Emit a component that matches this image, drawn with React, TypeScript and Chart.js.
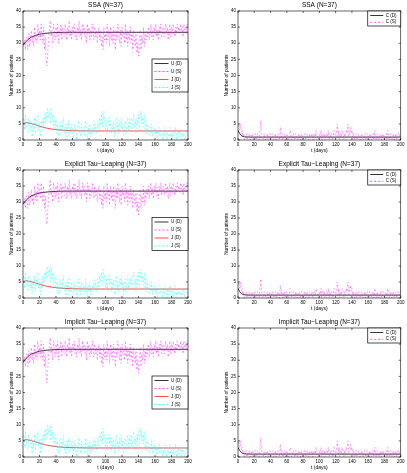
import React, { useEffect, useRef } from "react";
import { Chart, registerables } from "chart.js";
Chart.register(...registerables);

const FONT = '"Liberation Sans", Arial, Helvetica, sans-serif';

const xTicks = [0, 20, 40, 60, 80, 100, 120, 140, 160, 180, 200];
const yTicks = [0, 5, 10, 15, 20, 25, 30, 35, 40];

const titles = ["SSA (N=37)", "Explicit Tau\u2212Leaping (N=37)", "Implicit Tau\u2212Leaping (N=37)"];
const ujLegend = ["U (D)", "U (S)", "J (D)", "J (S)"];
const cLegend = ["C (D)", "C (S)"];

// deterministic solutions
const detDays = [0, 2, 4, 6, 8, 10, 15, 20, 25, 30, 35, 40, 45, 50, 60, 80, 100, 150, 200];
const uDet = [29.3, 30.0, 30.6, 31.1, 31.5, 31.9, 32.4, 32.8, 33.0, 33.15, 33.25, 33.32, 33.36, 33.4, 33.4, 33.4, 33.4, 33.4, 33.4];
const jDet = [5.0, 5.3, 5.4, 5.3, 5.2, 5.1, 4.7, 4.3, 3.9, 3.6, 3.4, 3.2, 3.1, 3.0, 2.9, 2.8, 2.8, 2.8, 2.8];
const cDet = [3.0, 2.0, 1.4, 1.1, 1.0, 0.95, 0.9, 0.9, 0.9, 0.9, 0.9, 0.9, 0.9, 0.9, 0.9, 0.9, 0.9, 0.9, 0.9];

// stochastic trajectories, one value per day (t = 0..200)
const stochDays = Array.from({ length: 201 }, (_, i) => i);
const uStoch = [
  30, 29, 31, 28, 32, 30, 28, 33, 29, 31,
  34, 30, 32, 29, 35, 31, 33, 30, 36, 32,
  34, 31, 36, 33, 30, 35, 28, 32, 25, 23,
  27, 31, 35, 37, 32, 34, 30, 36, 33, 31,
  35, 32, 36, 30, 34, 33, 36, 31, 35, 33,
  32, 36, 34, 31, 35, 33, 37, 32, 34, 31,
  35, 33, 36, 32, 34, 31, 35, 33, 37, 32,
  34, 31, 36, 33, 35, 32, 34, 30, 36, 33,
  35, 31, 34, 32, 36, 33, 31, 35, 32, 34,
  30, 33, 35, 31, 34, 29, 32, 28, 35, 31,
  33, 30, 36, 32, 34, 29, 35, 31, 33, 30,
  35, 32, 28, 34, 31, 36, 33, 30, 34, 29,
  35, 32, 33, 30, 36, 31, 34, 29, 33, 31,
  35, 30, 33, 28, 34, 31, 29, 33, 27, 30,
  26, 31, 34, 28, 32, 30, 35, 29, 33, 31,
  34, 32, 35, 31, 33, 36, 32, 34, 31, 35,
  33, 36, 32, 34, 31, 35, 33, 36, 32, 34,
  35, 32, 34, 36, 33, 35, 31, 34, 36, 32,
  35, 33, 36, 34, 32, 35, 33, 36, 34, 35,
  33, 36, 34, 35, 32, 36, 34, 35, 33, 36,
  35,
];
const jStoch = [
  5, 7, 3, 8, 4, 6, 2, 7, 5, 3,
  6, 1, 5, 3, 7, 2, 6, 4, 8, 3,
  5, 1, 6, 3, 7, 4, 8, 5, 9, 6,
  10, 7, 9, 5, 10, 6, 8, 4, 7, 3,
  6, 2, 5, 1, 4, 6, 2, 5, 3, 7,
  2, 4, 0, 5, 3, 6, 1, 4, 2, 5,
  3, 1, 5, 2, 4, 0, 3, 6, 2, 4,
  1, 5, 3, 2, 4, 1, 6, 3, 0, 4,
  2, 5, 1, 3, 4, 2, 6, 3, 5, 2,
  4, 6, 3, 7, 5, 8, 4, 9, 6, 7,
  3, 6, 2, 5, 7, 4, 6, 2, 5, 3,
  6, 1, 4, 7, 3, 5, 2, 6, 4, 7,
  3, 5, 1, 4, 6, 2, 5, 7, 3, 6,
  4, 7, 3, 5, 8, 4, 6, 2, 7, 5,
  8, 3, 6, 9, 5, 7, 4, 8, 3, 6,
  2, 5, 3, 1, 4, 2, 5, 1, 3, 2,
  4, 1, 3, 0, 2, 4, 1, 3, 2, 0,
  3, 1, 4, 2, 0, 3, 1, 2, 4, 1,
  2, 0, 3, 1, 2, 4, 0, 2, 1, 3,
  1, 2, 0, 3, 1, 2, 0, 1, 3, 2,
  1,
];
const cStoch = [
  4, 5, 3, 5, 2, 3, 1, 2, 0, 1,
  2, 0, 1, 1, 2, 0, 1, 2, 1, 0,
  1, 2, 0, 1, 2, 1, 0, 3, 6, 2,
  1, 0, 2, 1, 0, 1, 2, 0, 1, 2,
  0, 1, 2, 1, 0, 1, 2, 0, 1, 2,
  1, 0, 4, 1, 2, 0, 1, 2, 0, 1,
  2, 1, 0, 1, 3, 2, 0, 1, 2, 1,
  0, 2, 1, 0, 1, 2, 1, 0, 2, 1,
  0, 1, 2, 0, 1, 2, 1, 0, 2, 1,
  1, 2, 0, 1, 2, 1, 3, 2, 1, 0,
  2, 1, 3, 0, 2, 1, 2, 0, 1, 2,
  1, 3, 0, 2, 1, 2, 0, 1, 3, 2,
  1, 2, 5, 1, 3, 0, 2, 1, 3, 2,
  0, 2, 1, 3, 2, 5, 1, 2, 4, 2,
  3, 1, 2, 0, 1, 2, 0, 1, 2, 1,
  0, 1, 2, 1, 0, 1, 2, 0, 1, 2,
  1, 0, 2, 1, 0, 1, 2, 0, 3, 1,
  0, 2, 1, 0, 1, 2, 0, 1, 2, 1,
  0, 1, 2, 0, 3, 1, 0, 2, 1, 0,
  1, 2, 0, 1, 2, 0, 1, 2, 1, 2,
  2,
];

const BLACK = "#000000";
const MAGENTA = "#ff00ff";
const RED = "#ff0000";
const CYAN = "#00ffff";

const cols = [
  { left: 0, width: 200, chartLeft: 23, chartRight: 188 },
  { left: 205, width: 202, chartLeft: 238, chartRight: 402 },
];
const rows = [
  { top: 0, height: 156, chartTop: 11, chartBottom: 140 },
  { top: 158, height: 156, chartTop: 170, chartBottom: 298 },
  { top: 316, height: 157, chartTop: 328, chartBottom: 457 },
];

type Entry = { label: string; color: string; dash: boolean; width: number };

function pts(xs: number[], ys: number[]) {
  return xs.map((x, i) => ({ x, y: ys[i] }));
}

function makeDecor(title: string, entries: Entry[], kind: "uj" | "c") {
  return {
    id: "decor",
    afterDraw(chart: any) {
      const ctx: CanvasRenderingContext2D = chart.ctx;
      const a = chart.chartArea;
      const xs = chart.scales.x;
      const ys = chart.scales.y;
      ctx.save();
      ctx.strokeStyle = BLACK;
      ctx.lineWidth = 0.6;
      ctx.setLineDash([]);
      ctx.strokeRect(a.left, a.top, a.right - a.left, a.bottom - a.top);
      const line = (x1: number, y1: number, x2: number, y2: number) => {
        ctx.beginPath();
        ctx.moveTo(x1, y1);
        ctx.lineTo(x2, y2);
        ctx.stroke();
      };
      xTicks.forEach((v) => {
        const p = xs.getPixelForValue(v);
        line(p, a.bottom, p, a.bottom - 2);
        line(p, a.top, p, a.top + 2);
      });
      yTicks.forEach((v) => {
        const p = ys.getPixelForValue(v);
        line(a.left, p, a.left + 2, p);
        line(a.right, p, a.right - 2, p);
      });
      ctx.fillStyle = BLACK;
      ctx.textAlign = "center";
      ctx.textBaseline = "middle";
      ctx.font = `6.5px ${FONT}`;
      ctx.fillText(title, (a.left + a.right) / 2, a.top - 6);
      ctx.font = `5px ${FONT}`;
      ctx.fillText("t (days)", (a.left + a.right) / 2, a.bottom + 11);
      ctx.save();
      ctx.translate(a.left - 11.5, (a.top + a.bottom) / 2);
      ctx.rotate(-Math.PI / 2);
      ctx.fillText("Number of patients", 0, 0);
      ctx.restore();

      // legend
      let bx: number, by: number, bw: number, bh: number, step: number, first: number, lineLen: number;
      if (kind === "uj") {
        bw = 36; bh = 33; bx = a.right - bw; by = (a.top + a.bottom) / 2 - bh / 2;
        step = 8; first = 4.5; lineLen = 14;
      } else {
        bw = 33; bh = 15; bx = a.right - bw; by = a.top;
        step = 6.7; first = 4.5; lineLen = 13;
      }
      ctx.fillStyle = "#ffffff";
      ctx.fillRect(bx, by, bw, bh);
      ctx.strokeStyle = BLACK;
      ctx.lineWidth = 0.7;
      ctx.strokeRect(bx, by, bw, bh);
      ctx.font = `4.5px ${FONT}`;
      ctx.textAlign = "left";
      entries.forEach((e, i) => {
        const y = by + first + i * step;
        ctx.strokeStyle = e.color;
        ctx.lineWidth = e.width;
        ctx.setLineDash(e.dash ? [2, 2] : []);
        line(bx + 2.5, y, bx + 2.5 + lineLen, y);
        ctx.setLineDash([]);
        ctx.fillStyle = BLACK;
        ctx.fillText(e.label, bx + 5 + lineLen, y);
      });
      ctx.restore();
    },
  };
}

function Panel({ row, col }: { row: number; col: number }) {
  const ref = useRef<HTMLCanvasElement>(null);
  const c = cols[col];
  const r = rows[row];
  useEffect(() => {
    const canvas = ref.current!;
    const kind: "uj" | "c" = col === 0 ? "uj" : "c";
    const datasets: any[] = [];
    const entries: Entry[] = [];
    const add = (label: string, xsArr: number[], ysArr: number[], color: string, dash: boolean, width: number, order: number) => {
      datasets.push({
        label,
        data: pts(xsArr, ysArr),
        borderColor: color,
        backgroundColor: color,
        borderWidth: width,
        borderDash: dash ? [2, 2] : [],
        pointRadius: 0,
        tension: 0,
        fill: false,
        order,
      });
      entries.push({ label, color, dash, width: Math.max(width, 0.7) });
    };
    if (kind === "uj") {
      add(ujLegend[0], detDays, uDet, BLACK, false, 0.8, 4);
      add(ujLegend[1], stochDays, uStoch, MAGENTA, true, 0.4, 3);
      add(ujLegend[2], detDays, jDet, RED, false, 0.7, 2);
      add(ujLegend[3], stochDays, jStoch, CYAN, true, 0.4, 1);
    } else {
      add(cLegend[0], detDays, cDet, BLACK, false, 0.8, 2);
      add(cLegend[1], stochDays, cStoch, MAGENTA, true, 0.4, 1);
    }
    const yW = c.chartLeft - c.left;
    const xH = r.top + r.height - r.chartBottom;
    const chart = new Chart(canvas, {
      type: "line",
      data: { datasets },
      options: {
        animation: false,
        responsive: false,
        devicePixelRatio: 1,
        layout: {
          padding: {
            top: r.chartTop - r.top,
            left: 0,
            right: c.left + c.width - c.chartRight,
            bottom: 0,
          },
        },
        plugins: {
          legend: { display: false },
          title: { display: false },
          tooltip: { enabled: false },
        },
        scales: {
          x: {
            type: "linear",
            min: 0,
            max: 200,
            afterBuildTicks: (s: any) => {
              s.ticks = xTicks.map((v) => ({ value: v }));
            },
            afterFit: (s: any) => {
              s.height = xH;
            },
            grid: { display: false, drawTicks: false },
            border: { display: false },
            ticks: {
              autoSkip: false,
              maxRotation: 0,
              padding: 2.5,
              color: BLACK,
              font: { size: 4.5, family: FONT },
            },
          },
          y: {
            type: "linear",
            min: 0,
            max: 40,
            afterBuildTicks: (s: any) => {
              s.ticks = yTicks.map((v) => ({ value: v }));
            },
            afterFit: (s: any) => {
              s.width = yW;
            },
            grid: { display: false, drawTicks: false },
            border: { display: false },
            ticks: {
              autoSkip: false,
              padding: 2,
              color: BLACK,
              font: { size: 4.5, family: FONT },
            },
          },
        },
      },
      plugins: [makeDecor(titles[row], entries, kind)],
    } as any);
    return () => chart.destroy();
  }, [row, col]);
  return (
    <canvas
      ref={ref}
      width={c.width}
      height={r.height}
      style={{ position: "absolute", left: c.left, top: r.top, width: c.width, height: r.height }}
    />
  );
}

export default function App() {
  return (
    <div style={{ position: "absolute", left: 0, top: 0, width: 407, height: 473, background: "#ffffff", overflow: "hidden" }}>
      {[0, 1, 2].map((row) =>
        [0, 1].map((col) => <Panel key={`${row}-${col}`} row={row} col={col} />)
      )}
    </div>
  );
}
